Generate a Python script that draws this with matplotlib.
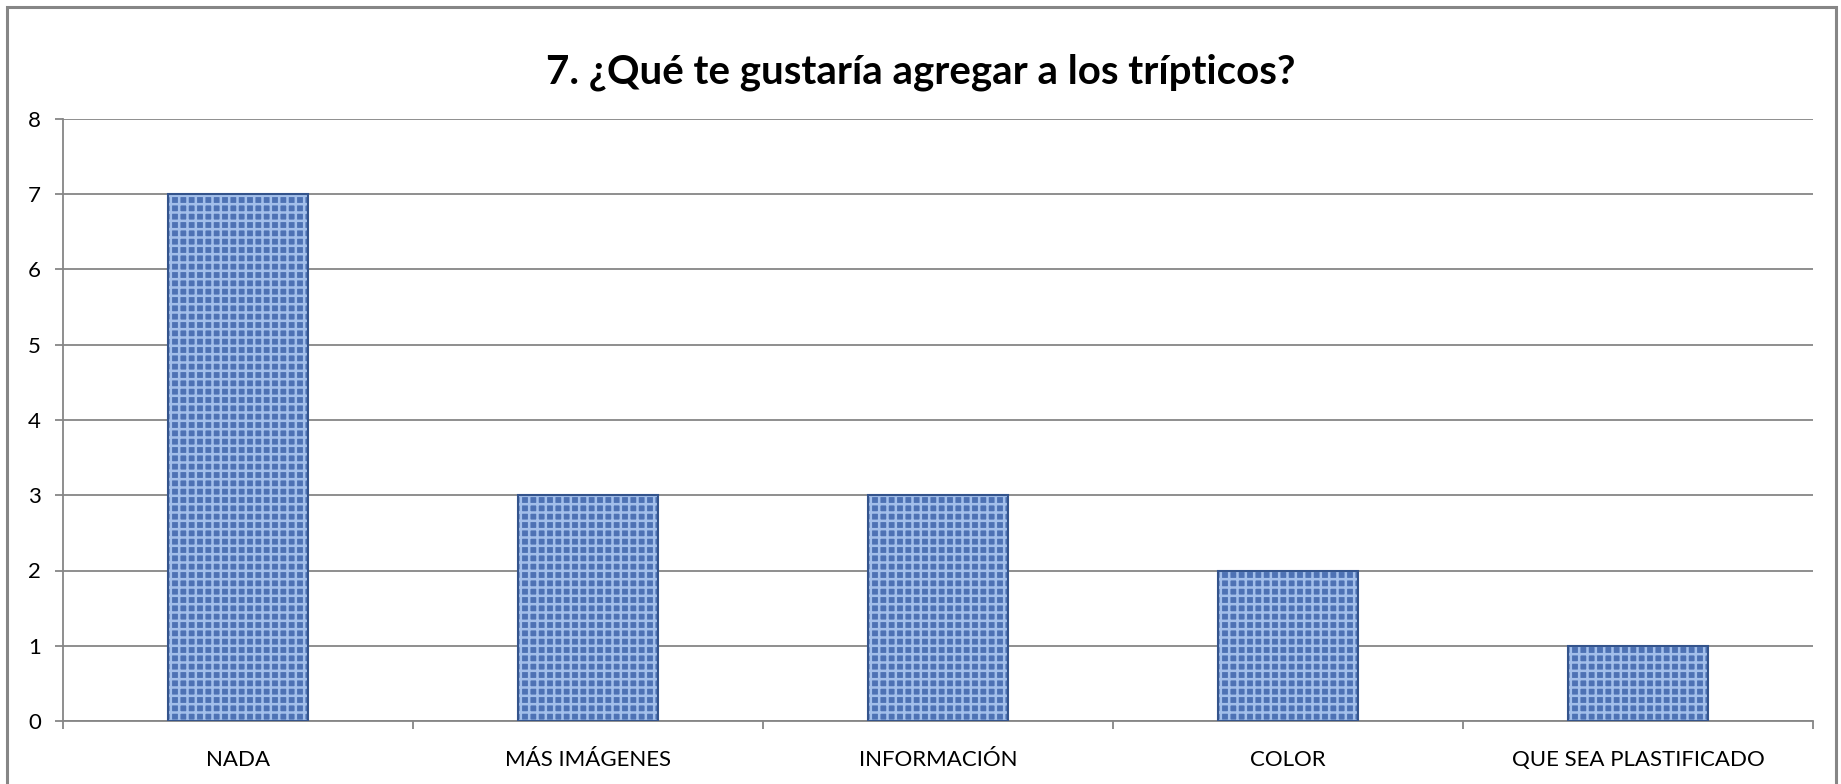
import numpy as np
import matplotlib
matplotlib.use("Agg")
import matplotlib.pyplot as plt
from matplotlib.patches import Rectangle

# Data
categories = ["NADA", "MÁS IMÁGENES", "INFORMACIÓN", "COLOR", "QUE SEA PLASTIFICADO"]
values = [7, 3, 3, 2, 1]
title = "7. ¿Qué te gustaría agregar a los trípticos?"

plt.rcParams['font.family'] = ['Lato', 'DejaVu Sans']
plt.rcParams['hatch.linewidth'] = 1.8

W, H = 1841, 784
fig = plt.figure(figsize=(W / 100, H / 100), dpi=100)
fig.patch.set_facecolor('white')

# outer chart frame
fig.patches.append(Rectangle((7 / W, -0.02), (1836 - 7) / W, 1.02 - 7 / H,
                             transform=fig.transFigure, fill=False,
                             edgecolor='#868686', linewidth=2.2))

ax = fig.add_axes([63 / W, 1 - 721 / H, (1813 - 63) / W, (721 - 119) / H])
x = np.arange(len(categories))

# textured-looking bars: blue fill with light cross weave, dark outline
ax.bar(x, values, width=0.40, color='#4e72b4', edgecolor='#a3bfea',
       hatch='++', linewidth=0, zorder=3)
ax.bar(x, values, width=0.40, fill=False, edgecolor='#34548c',
       linewidth=1.5, zorder=4)

ax.set_xlim(-0.5, len(categories) - 0.5)
ax.set_ylim(0, 8)
ax.set_yticks(range(0, 9))
ax.yaxis.grid(True, color='#868686', linewidth=1.3, zorder=0)
ax.set_axisbelow(True)

ax.set_xticks(x)
ax.set_xticklabels(categories)
ax.set_xticks(np.arange(-0.5, len(categories), 1), minor=True)
ax.tick_params(axis='x', which='major', length=0, pad=21, labelsize=16)
ax.tick_params(axis='x', which='minor', length=6, width=1.3, color='#868686')
ax.tick_params(axis='y', length=6, width=1.3, color='#868686', pad=10, labelsize=16)

for side in ['top', 'right']:
    ax.spines[side].set_visible(False)
for side in ['left', 'bottom']:
    ax.spines[side].set_color('#868686')
    ax.spines[side].set_linewidth(1.3)

fig.text(0.5, 1 - 72 / H, title, ha='center', va='center',
         fontsize=29, fontweight='bold')

fig.savefig("out.png", dpi=100)
